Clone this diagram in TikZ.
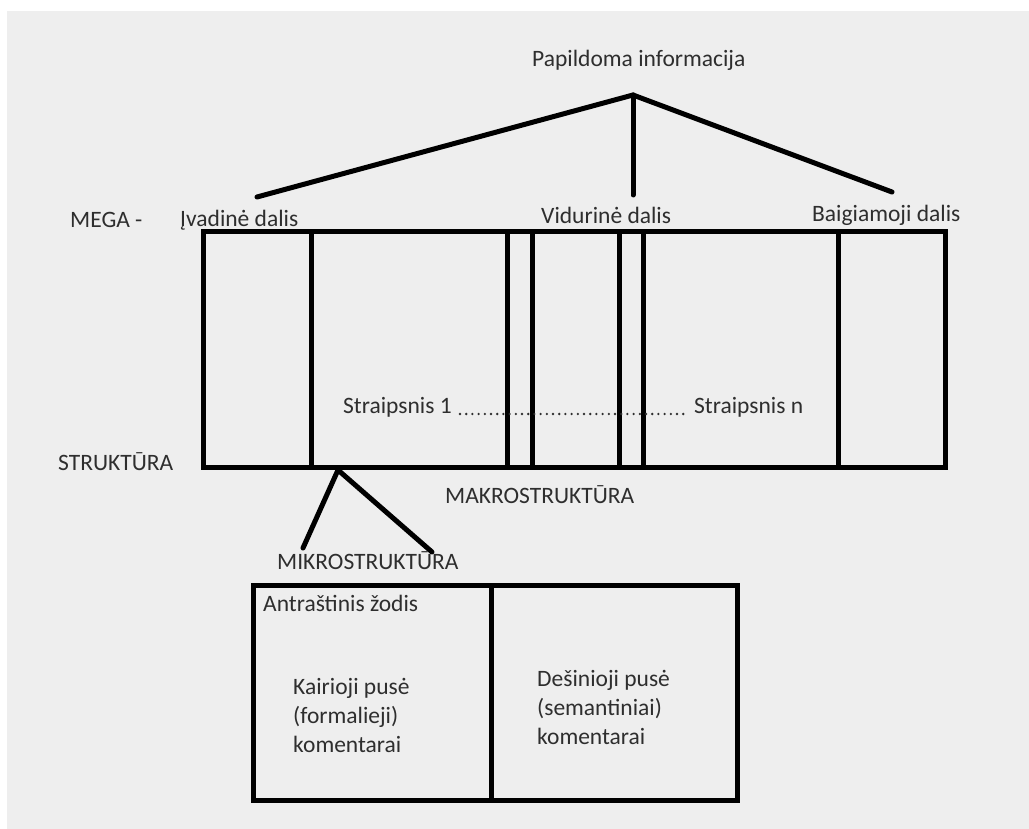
\documentclass[tikz,border=0pt]{standalone}
\usepackage{fontspec}
\setmainfont{Carlito}
\definecolor{bg}{HTML}{EEEEEE}
\definecolor{txt}{HTML}{2E2E2E}
\begin{document}
\begin{tikzpicture}[x=1pt,y=-1pt,
  lbl/.style={anchor=west,inner sep=0pt,text=txt,font=\fontsize{23.5}{29}\selectfont},
  thick line/.style={line width=5pt,line cap=round,black},
  boxline/.style={line width=5pt,black},
  dots/.style={line width=2.6pt,line cap=round,dash pattern=on 0pt off 6.2pt,txt}]
\useasboundingbox (0,0) rectangle (1029,829);
\fill[white] (0,0) rectangle (1029,829);
\fill[bg] (7,11) rectangle (1029,829);
% main box
\draw[boxline] (203,232) rectangle (945,467);
\foreach \x in {311,507,532,619,643,838}{\draw[boxline] (\x,232) -- (\x,467);}
% labels
\node[lbl] (pap) at (532,60) {Papildoma informacija};
\node[lbl] (mega) at (70,220) {MEGA -};
\node[lbl] (ivad) at (180,220) {Įvadinė dalis};
\node[lbl] (vid) at (541,215) {Vidurinė dalis};
\node[lbl] (baig) at (812,215) {Baigiamoji dalis};
\node[lbl] (str) at (58,462) {STRUKTŪRA};
\node[lbl] (s1) at (343,407) {Straipsnis 1};
\node[lbl] (sn) at (694,407) {Straipsnis n};
\node[lbl] (makro) at (445,495) {MAKROSTRUKTŪRA};
\node[lbl] (mikro) at (277,561) {MIKROSTRUKTŪRA};
\draw[dots] ([xshift=8pt,yshift=-7pt]s1.east) -- ([xshift=-6pt,yshift=-7pt]sn.west);
% top tree
\coordinate (apex) at (633,95);
\coordinate (e1) at (257,197);
\coordinate (e2) at (633,195);
\coordinate (e3) at (892,192);
\draw[thick line] (e1) -- (apex) -- (e3);
\draw[thick line] (apex) -- (e2);
% micro tree
\coordinate (mapex) at (338,470);
\coordinate (m1) at (303,548);
\coordinate (m2) at (432,552);
\draw[thick line] (m1) -- (mapex) -- (m2);
% bottom box
\draw[boxline] (253,585) rectangle (737,800);
\draw[boxline] (491,585) -- (491,800);
\node[lbl] (ant) at (263,603) {Antraštinis žodis};
\node[lbl,align=left] (kair) at (293,715) {Kairioji pusė\\(formalieji)\\komentarai};
\node[lbl,align=left] (des) at (537,707) {Dešinioji pusė\\(semantiniai)\\komentarai};
\end{tikzpicture}
\end{document}
